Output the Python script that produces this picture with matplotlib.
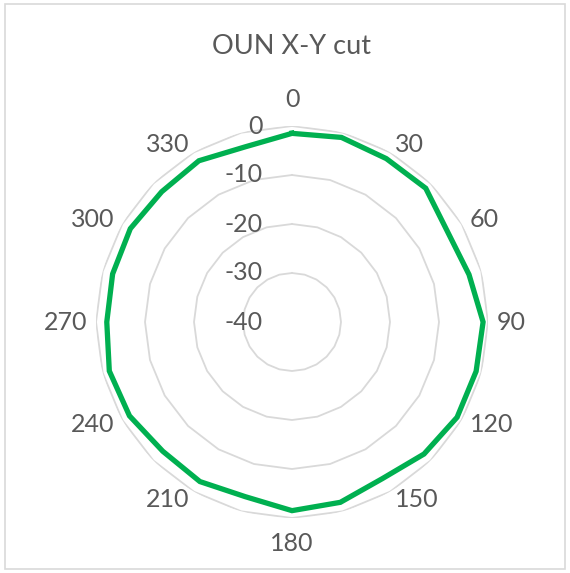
import numpy as np
import matplotlib.pyplot as plt
from matplotlib.patches import Rectangle

# angles of the cut (deg) and measured level (dB)
angles = [0, 15, 30, 45, 60, 75, 90, 105, 120, 135, 150, 165,
          180, 195, 210, 225, 240, 255, 270, 285, 300, 315, 330, 345]
level = [-1.5, -1.0, -1.5, -1.4, -3.3, -2.6, -1.0, -1.1, -1.1, -1.9, -3.1, -1.9,
         -1.5, -3.1, -2.4, -2.7, -1.7, -1.4, -2.2, -2.1, -1.9, -2.4, -2.0, -3.0]
cat_labels = ['0', '', '30', '', '60', '', '90', '', '120', '', '150', '',
              '180', '', '210', '', '240', '', '270', '', '300', '', '330', '']
rings = [0, -10, -20, -30, -40]
rmin, rmax = -40, 0

txt = '#595959'
grid_c = '#d9d9d9'
plt.rcParams['font.family'] = ['Lato', 'DejaVu Sans']

W, H = 570, 573
fig = plt.figure(figsize=[W / 100, H / 100], dpi=100)
fig.patches.append(Rectangle((5 / W, 4 / H), 560 / W, 565 / H, transform=fig.transFigure,
                             fill=False, edgecolor=grid_c, lw=1.2))

cx, cy, R = 292, 322, 196
ax = fig.add_axes([(cx - R) / W, (H - cy - R) / H, 2 * R / W, 2 * R / H], projection='polar')
ax.set_theta_zero_location('N')
ax.set_theta_direction(-1)
ax.set_ylim(rmin, rmax)
ax.grid(False)
ax.spines['polar'].set_visible(False)
ax.set_xticks([])
ax.set_yticks([])
ax.patch.set_alpha(0)

th = np.deg2rad(angles + [angles[0]])
# polygon grid like excel radar
for r in rings[:-1]:
    ax.plot(th, [r] * len(th), color=grid_c, lw=1.3, zorder=1)

ax.plot(th, level + [level[0]], color='#00B050', lw=3.8, zorder=3, solid_joinstyle='miter')

# radial axis labels
for r in rings:
    ax.annotate(str(r), xy=(0, r), xytext=(-21, 0), textcoords='offset points',
                ha='right', va='center', fontsize=18, color=txt, annotation_clip=False)

# category labels outside the outer ring
def px2r(p):
    return rmin + p / R * (rmax - rmin)

for a, lab in zip(angles, cat_labels):
    if not lab:
        continue
    s, c = np.sin(np.deg2rad(a)), np.cos(np.deg2rad(a))
    if abs(s) < 0.01:
        ha = 'center'
        va = 'bottom' if c > 0 else 'top'
        rr = px2r(211 if c > 0 else 210)
    else:
        ha = 'left' if s > 0 else 'right'
        va = 'center'
        rr = px2r(205)
    ax.text(np.deg2rad(a), rr, lab, ha=ha, va=va, fontsize=18,
            color=txt, clip_on=False)

fig.text(cx / W, 1 - 46 / H, 'OUN X-Y cut', ha='center', va='center', fontsize=19.5, color=txt)

plt.savefig('out.png', dpi=100)
plt.close()
